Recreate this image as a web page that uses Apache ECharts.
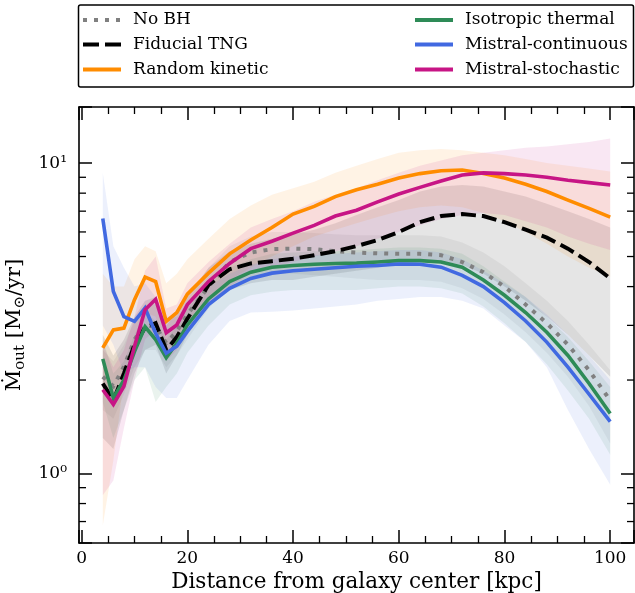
<!DOCTYPE html>
<html><head><meta charset="utf-8">
<script src="https://cdn.jsdelivr.net/npm/echarts/dist/echarts.min.js"></script>
<style>html,body{margin:0;padding:0;background:#fff}#c{width:635px;height:593px}</style>
</head><body><div id="c"></div>
<script>
// ---- data (distance in kpc, outflow rate in Msun/yr) ----
const xKpc = [4,6,8,10,12,14,16,18,20,24,28,32,36,40,44,48,52,56,60,64,68,72,76,80,84,88,92,96,100];

const noBH      = [2.05,1.91,2.21,2.70,3.01,2.97,2.63,2.87,3.25,4.00,4.80,5.15,5.28,5.30,5.28,5.20,5.15,5.12,5.10,5.10,5.05,4.80,4.45,4.00,3.50,3.05,2.60,2.15,1.72];
const fiducial  = [1.95,1.72,2.10,2.60,2.95,3.05,2.50,2.75,3.15,4.05,4.55,4.75,4.83,4.92,5.05,5.20,5.40,5.65,6.00,6.45,6.75,6.85,6.75,6.45,6.10,5.75,5.30,4.80,4.25];
const randomKin = [2.54,2.90,2.94,3.63,4.29,4.15,3.09,3.30,3.78,4.42,5.10,5.65,6.20,6.85,7.25,7.80,8.20,8.55,8.95,9.25,9.45,9.50,9.25,8.95,8.55,8.10,7.60,7.15,6.70];
const isoTherm  = [2.34,1.75,2.00,2.47,2.97,2.70,2.36,2.63,3.01,3.65,4.15,4.45,4.62,4.68,4.72,4.75,4.76,4.80,4.85,4.85,4.80,4.62,4.20,3.75,3.30,2.85,2.40,1.95,1.56];
const mistralC  = [6.63,3.86,3.20,3.09,3.41,2.83,2.44,2.57,2.87,3.50,3.95,4.25,4.42,4.50,4.55,4.60,4.65,4.68,4.73,4.72,4.62,4.35,4.00,3.55,3.10,2.65,2.20,1.80,1.47];
const mistralS  = [1.86,1.67,1.91,2.57,3.37,3.64,2.84,3.01,3.50,4.15,4.75,5.30,5.60,5.95,6.30,6.75,7.05,7.50,7.95,8.35,8.75,9.15,9.30,9.25,9.15,9.00,8.80,8.65,8.50];

// spread bands (lower / upper)
const noBHLo      = [1.60,1.50,1.80,2.20,2.50,2.50,2.20,2.40,2.70,3.40,4.00,4.30,4.40,4.40,4.35,4.30,4.25,4.20,4.20,4.20,4.15,3.95,3.65,3.25,2.85,2.45,2.05,1.65,1.25];
const noBHHi      = [2.50,2.30,2.60,3.10,3.50,3.50,3.10,3.30,3.70,4.60,5.40,5.80,6.00,6.00,5.95,5.90,5.85,5.85,5.85,5.85,5.80,5.55,5.15,4.65,4.10,3.60,3.10,2.60,2.15];
const fiducialLo  = [1.30,1.20,1.60,2.10,2.50,2.60,2.10,2.40,2.80,3.50,3.90,4.10,4.20,4.20,4.30,4.40,4.50,4.60,4.70,4.80,4.80,4.70,4.40,4.00,3.60,3.20,2.80,2.40,2.05];
const fiducialHi  = [2.80,2.40,2.70,3.20,3.60,3.70,3.00,3.30,3.70,4.60,5.20,5.50,5.70,5.90,6.10,6.40,6.80,7.20,7.60,8.10,8.40,8.50,8.40,8.10,7.80,7.40,7.00,6.60,6.20];
const randomKinLo = [0.68,1.10,2.00,2.60,3.30,3.20,2.40,2.60,3.00,3.60,4.20,4.60,5.00,5.40,5.80,6.10,6.40,6.70,7.00,7.20,7.30,7.20,6.90,6.50,6.00,5.50,5.00,4.60,4.30];
const randomKinHi = [4.40,4.00,4.00,4.90,5.40,5.20,4.10,4.40,4.90,5.70,6.60,7.30,7.90,8.30,8.70,9.30,9.80,10.3,10.8,11.0,11.1,11.0,10.8,10.6,10.3,10.0,9.80,9.60,9.40];
const isoThermLo  = [1.70,1.30,1.60,2.00,2.20,1.70,1.90,2.10,2.45,3.00,3.50,3.75,3.85,3.90,3.90,3.90,3.90,3.95,4.00,4.00,3.95,3.80,3.45,3.05,2.65,2.25,1.85,1.50,1.15];
const isoThermHi  = [2.70,2.10,2.30,2.80,3.30,3.10,2.70,3.00,3.40,4.10,4.60,4.90,5.10,5.15,5.20,5.20,5.25,5.30,5.35,5.35,5.30,5.10,4.65,4.15,3.70,3.20,2.75,2.30,1.90];
const mistralCLo  = [3.00,2.60,2.10,2.20,2.20,1.90,1.75,1.75,2.00,2.60,3.10,3.30,3.32,3.35,3.40,3.45,3.50,3.60,3.65,3.70,3.70,3.60,3.40,3.00,2.65,2.20,1.60,1.20,0.92];
const mistralCHi  = [9.30,5.40,4.60,4.00,4.10,3.70,3.20,3.20,3.50,4.00,4.40,4.70,4.90,5.00,5.05,5.10,5.15,5.20,5.25,5.25,5.15,4.90,4.50,4.10,3.70,3.25,2.80,2.40,2.00];
const mistralSLo  = [0.85,0.95,1.40,2.00,2.70,2.90,2.30,2.50,2.90,3.50,4.00,4.40,4.60,4.80,5.00,5.20,5.40,5.70,6.00,6.30,6.60,6.80,6.90,6.80,6.50,6.20,5.80,5.50,5.25];
const mistralSHi  = [2.60,2.20,2.50,3.20,4.50,5.00,3.40,3.50,4.10,4.80,5.50,6.20,6.60,7.00,7.50,7.90,8.30,8.80,9.30,9.80,10.2,10.6,10.8,11.0,11.2,11.3,11.5,11.7,12.0];

const legendNames = ['No BH','Fiducial TNG','Random kinetic','Isotropic thermal','Mistral-continuous','Mistral-stochastic'];
const yMinorTicks = [0.7,0.8,0.9,2,3,4,5,6,7,8,9];

// ---- styling ----
const FONT = '"DejaVu Serif", serif';
const X_MIN = -0.5, X_MAX = 104.5, Y_MIN = 0.597, Y_MAX = 15.16;
const C = {gray:'#808080', black:'#000000', orange:'#ff8c00', green:'#2e8b57', blue:'#4169e1', magenta:'#c71585'};

function rgba(hex, a){
  const n = parseInt(hex.slice(1),16);
  return 'rgba('+((n>>16)&255)+','+((n>>8)&255)+','+(n&255)+','+a+')';
}
function band(lo, hi, color, alpha){
  return {
    type:'custom', coordinateSystem:'cartesian2d', silent:true, z:1,
    data:[[xKpc[0], lo[0]]], clip:true,
    renderItem:function(params, api){
      const pts = [];
      for (let i=0;i<xKpc.length;i++) pts.push(api.coord([xKpc[i], hi[i]]));
      for (let i=xKpc.length-1;i>=0;i--) pts.push(api.coord([xKpc[i], lo[i]]));
      return {type:'polygon', shape:{points:pts}, style:{fill:rgba(color, alpha)}};
    }
  };
}
function line(name, vals, color, type, width){
  return {
    name:name, type:'line', showSymbol:false, symbol:'none', z:5, clip:true,
    data:xKpc.map((x,i)=>[x, vals[i]]),
    lineStyle:{color:color, width:width, type:type, cap:'butt', join:'miter'},
    itemStyle:{color:color}
  };
}

const axisLineStyle = {color:'#000', width:1.6};
const tickStyle = {color:'#000', width:1.5};
function xAx(pos, showLabel){
  return {
    type:'value', min:X_MIN, max:X_MAX, splitNumber:5, position:pos,
    axisLine:{show:true, onZero:false, lineStyle:axisLineStyle},
    axisTick:{show:true, inside:true, length:13, lineStyle:tickStyle},
    minorTick:{show:true, splitNumber:4, length:7, lineStyle:{color:'#000', width:1.3}},
    splitLine:{show:false}, minorSplitLine:{show:false},
    axisLabel:{show:showLabel, fontFamily:FONT, fontSize:17, color:'#000', margin:7,
      formatter:function(v){ return Math.abs(v/20 - Math.round(v/20))<1e-6 ? String(Math.round(v)) : ''; }},
    name: showLabel ? 'Distance from galaxy center [kpc]' : '',
    nameLocation:'middle', nameGap:25,
    nameTextStyle:{fontFamily:FONT, fontSize:21.5, color:'#000'}
  };
}
function yAx(pos, showLabel){
  return {
    type:'log', logBase:10, min:Y_MIN, max:Y_MAX, position:pos,
    axisLine:{show:true, onZero:false, lineStyle:axisLineStyle},
    axisTick:{show:true, inside:true, length:13, lineStyle:tickStyle},
    minorTick:{show:false}, splitLine:{show:false},
    axisLabel:{show:showLabel, fontFamily:FONT, fontSize:17, color:'#000', margin:12,
      formatter:function(v){
        if (Math.abs(v-1)<1e-6) return '10\u2070';
        if (Math.abs(v-10)<1e-5) return '10\u00b9';
        return '';
      }},
    name: showLabel ? '{a|\u1E40}{s|out}{a| [M}{s|\u2299}{a|/yr]}' : '',
    nameLocation:'middle', nameGap:44, nameRotate:90,
    nameTextStyle:{color:'#000', fontFamily:FONT, fontSize:21, lineHeight:26, rich:{
      a:{fontFamily:FONT, fontSize:21, color:'#000', lineHeight:26, verticalAlign:'middle'},
      s:{fontFamily:FONT, fontSize:15, color:'#000', lineHeight:14, verticalAlign:'bottom'}
    }}
  };
}

const minorTickSeries = {
  type:'custom', coordinateSystem:'cartesian2d', silent:true, z:10, clip:false,
  data:yMinorTicks.map(v=>[X_MIN, v]),
  renderItem:function(params, api){
    const cs = params.coordSys;
    const y = api.coord([X_MIN, api.value(1)])[1];
    const st = {stroke:'#000', lineWidth:1.3};
    return {type:'group', children:[
      {type:'line', shape:{x1:cs.x, y1:y, x2:cs.x+7, y2:y}, style:st},
      {type:'line', shape:{x1:cs.x+cs.width-7, y1:y, x2:cs.x+cs.width, y2:y}, style:st}
    ]};
  }
};

// legend drawn as graphics
const legendStyles = [
  {color:C.gray, dash:[4,7], w:4},
  {color:C.black, dash:[16,6], w:4},
  {color:C.orange, dash:null, w:4},
  {color:C.green, dash:null, w:4},
  {color:C.blue, dash:null, w:4},
  {color:C.magenta, dash:null, w:4}
];
const legendGraphics = [{type:'rect', shape:{x:78.5, y:5, width:555, height:82, r:2},
  style:{fill:'#fff', stroke:'#000', lineWidth:1.5}, z:100}];
const rowsY = [20, 44.5, 69.5];
legendNames.forEach((nm, i)=>{
  const col = i<3 ? 0 : 1, row = i%3;
  const x0 = col===0 ? 83 : 415;
  const s = legendStyles[i];
  legendGraphics.push({type:'line', z:101, shape:{x1:x0, y1:rowsY[row], x2:x0+38, y2:rowsY[row]},
    style:{stroke:s.color, lineWidth:s.w, lineDash:s.dash, lineCap:'butt'}});
  legendGraphics.push({type:'text', z:101, style:{text:nm, x:x0+50, y:rowsY[row],
    font:'17px "DejaVu Serif"', fill:'#000', textVerticalAlign:'middle', verticalAlign:'middle'}});
});

const chart = echarts.init(document.getElementById('c'), null, {renderer:'canvas'});
chart.setOption({
  animation:false,
  backgroundColor:'#fff',
  grid:{left:79, right:1, top:107, bottom:50, containLabel:false, outerBoundsMode:'none'},
  xAxis:[xAx('bottom', true), xAx('top', false)],
  yAxis:[yAx('left', true), yAx('right', false)],
  series:[
    band(noBHLo, noBHHi, C.gray, 0.1),
    band(fiducialLo, fiducialHi, C.black, 0.1),
    band(randomKinLo, randomKinHi, C.orange, 0.1),
    band(isoThermLo, isoThermHi, C.green, 0.1),
    band(mistralCLo, mistralCHi, C.blue, 0.1),
    band(mistralSLo, mistralSHi, C.magenta, 0.1),
    minorTickSeries,
    line(legendNames[0], noBH, C.gray, [4,7], 4),
    line(legendNames[1], fiducial, C.black, [15,6], 4),
    line(legendNames[2], randomKin, C.orange, 'solid', 3.6),
    line(legendNames[3], isoTherm, C.green, 'solid', 3.6),
    line(legendNames[4], mistralC, C.blue, 'solid', 3.6),
    line(legendNames[5], mistralS, C.magenta, 'solid', 3.6)
  ],
  graphic:legendGraphics
});
</script></body></html>
